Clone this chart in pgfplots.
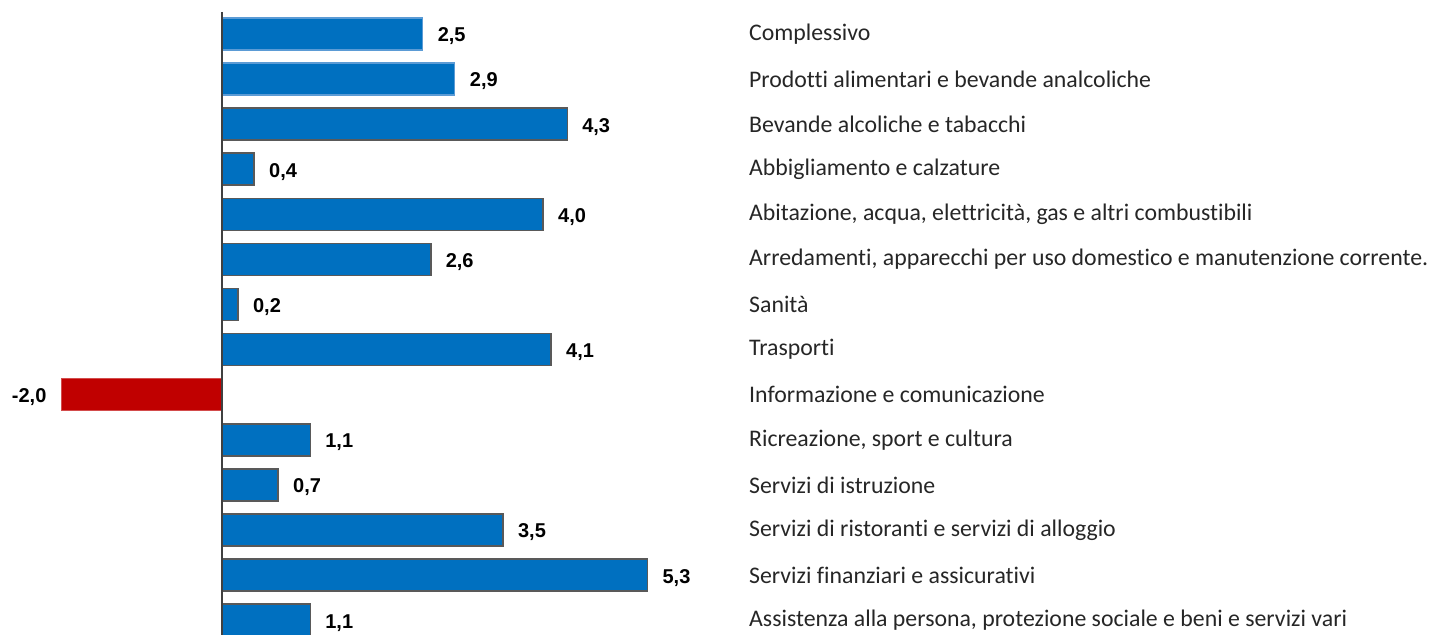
\documentclass[border=0pt]{standalone}
\usepackage{pgfplots}
\pgfplotsset{compat=1.18}
\usepackage{fontspec}
\setmainfont{Carlito}[Ligatures={NoCommon}]
\newfontfamily\valfont{Liberation Sans}
\definecolor{barblue}{HTML}{0070C0}
\definecolor{barred}{HTML}{C00000}
\definecolor{lightedge}{HTML}{5B9BD5}
\definecolor{grayedge}{HTML}{595959}
\definecolor{zeroline}{HTML}{404040}
\begin{document}
\begin{tikzpicture}
\begin{axis}[
  name=ax,
  scale only axis,
  width=717.5pt, height=317.5pt,
  xmin=-2.765, xmax=15.106,
  ymin=-0.754, ymax=13.326,
  y dir=reverse,
  hide axis,
  clip=false,
  xbar, bar width=16pt, bar shift=0pt,
  nodes near coords,
  nodes near coords align={horizontal},
  every node near coord/.append style={font=\valfont\bfseries\fontsize{10}{12}\selectfont, text=black, inner xsep=0pt, outer xsep=7.5pt, inner ysep=0pt, yshift=-1.2pt},
  /pgf/number format/.cd, fixed, fixed zerofill, precision=1, use comma, assume math mode=true,
]
\addplot[fill=barblue, draw=lightedge, line width=0.6pt] coordinates {(2.5,0) (2.9,1)};
\addplot[fill=barblue, draw=grayedge, line width=0.8pt] coordinates {(4.3,2) (0.4,3) (4.0,4) (2.6,5) (0.2,6) (4.1,7) (1.1,9) (0.7,10) (3.5,11) (5.3,12) (1.1,13)};
\addplot[fill=barred, draw=barred!70!white, line width=0.4pt] coordinates {(-2.0,8)};
\draw[zeroline, line width=0.8pt] (axis cs:0,-0.49) -- (axis cs:0,13.4);
\begin{scope}[every node/.style={anchor=west, inner sep=0pt, font=\fontsize{11.9}{14}\selectfont, text=black!85}]
\node at (axis cs:6.56,0) {Complessivo};
\node at (axis cs:6.56,1) {Prodotti alimentari e bevande analcoliche};
\node at (axis cs:6.56,2) {Bevande alcoliche e tabacchi};
\node at (axis cs:6.56,3) {Abbigliamento e calzature};
\node at (axis cs:6.56,4) {Abitazione, acqua, elettricità, gas e altri combustibili};
\node at (axis cs:6.56,5) {Arredamenti, apparecchi per uso domestico e manutenzione corrente.};
\node at (axis cs:6.56,6) {Sanità};
\node at (axis cs:6.56,7) {Trasporti};
\node at (axis cs:6.56,8) {Informazione e comunicazione};
\node at (axis cs:6.56,9) {Ricreazione, sport e cultura};
\node at (axis cs:6.56,10) {Servizi di istruzione};
\node at (axis cs:6.56,11) {Servizi di ristoranti e servizi di alloggio};
\node at (axis cs:6.56,12) {Servizi finanziari e assicurativi};
\node at (axis cs:6.56,13) {Assistenza alla persona, protezione sociale e beni e servizi vari};
\end{scope}
\end{axis}
\pgfresetboundingbox
\path[use as bounding box] (ax.south west) rectangle (ax.north east);
\end{tikzpicture}
\end{document}
